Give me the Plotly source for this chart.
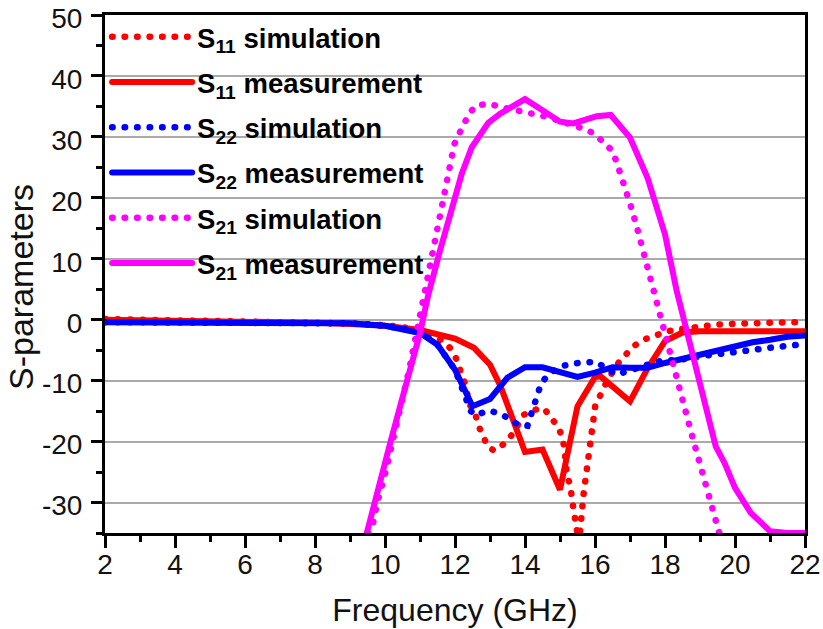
import plotly.graph_objects as go

RED = "#ff0000"
BLUE = "#0000ff"
MAGENTA = "#ff00ff"
FONT = "Liberation Sans"

# S11
s11_sim_x = [2, 6, 8, 9, 10, 10.5, 11, 11.4, 11.67, 11.9, 12.07, 12.16, 12.28, 12.42, 12.59, 12.68, 12.81, 12.94,
             13.13, 13.42, 13.64, 13.78, 13.97, 14.26, 14.54, 14.73, 14.95, 15.07, 15.13, 15.19, 15.3, 15.37, 15.43,
             15.51, 15.56, 15.61, 15.67, 15.71, 15.75, 15.79, 15.83, 15.88, 15.92, 15.96, 16.01, 16.16, 16.3, 16.62,
             16.85, 17.09, 17.38, 17.71, 18.07, 18.4, 18.76, 19.1, 19.47, 19.83, 20.18, 20.54, 20.9, 21.24, 21.6, 22]
s11_sim_y = [0.1, -0.2, -0.4, -0.6, -0.9, -1.2, -1.8, -2.7, -3.5, -4.9, -6.8, -8.5, -10.4, -13.9, -15.7, -17.5, -19.2,
             -20.9, -21.5, -20.3, -18.8, -17.2, -15.6, -14.8, -14.5, -16, -17.6, -19.4, -21.3, -25, -27.5, -30.5,
             -32.4, -35.5, -35.5, -30.7, -28.8, -27, -25.2, -23.3, -21.4, -19.5, -17.6, -15.9, -14, -12.3, -10.6, -7.4,
             -5.9, -4.4, -3.3, -2.5, -1.9, -1.6, -1.3, -1, -0.8, -0.7, -0.6, -0.5, -0.5, -0.45, -0.4, -0.4]
s11_meas_x = [2, 4, 6, 8, 9, 10, 11, 12, 12.54, 13, 13.3, 14, 14.5, 15, 15.5, 16, 16.16, 17, 17.5, 18, 18.5, 19, 20, 22]
s11_meas_y = [0, -0.1, -0.3, -0.5, -0.7, -1, -1.7, -3.1, -4.6, -7.4, -10.9, -21.7, -21.3, -27.9, -14.2, -9.4, -9.3,
              -13.4, -8, -3.5, -2.1, -1.9, -1.9, -1.9]

# S22
s22_sim_x = [2, 6, 9, 10, 11, 11.5, 12, 12.45, 12.62, 12.92, 13.24, 13.54, 13.81, 14.07, 14.18, 14.28, 14.37, 14.47,
             14.7, 14.97, 15.32, 15.67, 16.02, 16.62, 16.97, 17.3, 17.64, 18, 18.3, 18.7, 19, 19.38, 19.73, 20.09,
             20.45, 20.79, 21.14, 21.5, 21.85, 22]
s22_sim_y = [-0.4, -0.5, -0.6, -1, -2, -4.1, -8.2, -15, -15.7, -14.9, -15.3, -16.2, -17.3, -17.4, -15.6, -13.8, -12,
             -10.3, -8.9, -7.8, -7.2, -7, -6.9, -9, -8.5, -7.8, -7.1, -6.6, -6.7, -6.3, -5.9, -5.7, -5.5, -5.2, -4.9,
             -4.75, -4.5, -4.3, -4.1, -4]
s22_meas_x = [2, 6, 9, 10, 11, 11.5, 12, 12.5, 13, 13.5, 14, 14.5, 15, 15.5, 16, 16.5, 17, 17.5, 18, 18.5, 19, 19.5,
              20, 20.5, 21, 21.5, 22]
s22_meas_y = [-0.4, -0.5, -0.6, -1, -2.2, -4.1, -8.2, -14.2, -13, -9.5, -7.8, -7.8, -8.7, -9.4, -8.7, -7.8, -7.9,
              -7.9, -7.1, -6.4, -5.7, -5, -4.2, -3.7, -3.3, -2.8, -2.6]

# S21
s21_sim_x = [9.5, 9.64, 9.78, 10.02, 10.69, 11.02, 11.21, 11.36, 11.54, 11.74, 11.91, 11.98, 12.12, 12.27, 12.41, 12.62,
             12.98, 13.31, 13.67, 14.02, 14.37, 14.7, 15, 15.35, 15.7, 15.99, 16.24, 16.48, 16.61, 16.82, 17.02, 17.2,
             17.36, 17.53, 17.7, 17.88, 18.11, 18.35, 18.54, 18.8, 18.97, 19.16, 19.32, 19.51, 19.55]
s21_sim_y = [-35, -33.9, -30, -24.9, -8.2, 1, 6.4, 10.4, 15.9, 21.5, 26.9, 28.8, 30.5, 32.3, 33.9, 35.2,
             35.4, 34.9, 34.5, 34.2, 33.8, 33.2, 32.6, 32, 31.3, 30.5, 29.2, 27.8, 26, 22.5, 18.7, 15.1,
             11.5, 7.9, 4.2, 0.5, -4.6, -10.4, -14, -19.6, -23.2, -26.8, -30.5, -34.2, -35]
s21_meas_x = [9.48, 9.72, 10.16, 11, 11.24, 11.57, 12, 12.19, 12.48, 12.95, 13.29, 14, 14.52, 15, 15.38, 16.05, 16.45,
              17, 17.5, 18, 18.33, 18.54, 18.83, 19.1, 19.45, 19.7, 20, 20.45, 21, 21.5, 22]
s21_meas_y = [-35, -30, -20, -2.2, 4.2, 11.3, 20.3, 23.9, 28.3, 32.3, 33.8, 36.2, 34.3, 32.5, 32.2, 33.4, 33.6,
              29.9, 23.3, 14, 4.8, 0, -6.5, -13, -20.8, -23.5, -27.6, -31.7, -34.7, -35, -35]

y_ticks = [-30, -20, -10, 0, 10, 20, 30, 40, 50]
y_ticktext = ["-30", "-20", "-10", "0", "10", "20", "30", "40", "50"]

series = [
    ("S<sub>11</sub> simulation", s11_sim_x, s11_sim_y, RED, True),
    ("S<sub>11</sub> measurement", s11_meas_x, s11_meas_y, RED, False),
    ("S<sub>22</sub> simulation", s22_sim_x, s22_sim_y, BLUE, True),
    ("S<sub>22</sub> measurement", s22_meas_x, s22_meas_y, BLUE, False),
    ("S<sub>21</sub> simulation", s21_sim_x, s21_sim_y, MAGENTA, True),
    ("S<sub>21</sub> measurement", s21_meas_x, s21_meas_y, MAGENTA, False),
]

fig = go.Figure()
for i, (name, x, y, color, dotted) in enumerate(series):
    if dotted:
        line = dict(color=color, width=6.5, dash="0.5px,12px")
    else:
        line = dict(color=color, width=6)
    fig.add_trace(go.Scatter(x=x, y=y, name=f"<b>{name}</b>", mode="lines", line=line, legendgroup=str(i)))

fig.update_layout(
    width=823, height=629,
    autosize=False,
    margin=dict(l=105, r=18, t=15, b=96),
    paper_bgcolor="white",
    plot_bgcolor="white",
    font=dict(family=FONT, color="#111111"),
    legend=dict(
        x=0.003, y=1.005, xanchor="left", yanchor="top",
        bgcolor="rgba(0,0,0,0)",
        font=dict(size=27.5, color="black"),
        itemwidth=80,
        tracegroupgap=6.5,
    ),
    annotations=[dict(
        text="S-parameters", textangle=-90, showarrow=False,
        xref="paper", yref="paper", x=-0.12, y=0.475,
        xanchor="center", yanchor="middle",
        font=dict(size=34),
    )],
)

fig.update_xaxes(
    range=[2, 22], tick0=2, dtick=2,
    automargin=False, ticklabeloverflow="allow",
    showgrid=False, zeroline=False,
    showline=True, mirror=True, linecolor="black", linewidth=3,
    ticks="outside", ticklen=12, tickwidth=3, tickcolor="black",
    tickfont=dict(size=28), ticklabelstandoff=-8,
    minor=dict(dtick=1, ticks="outside", ticklen=6, tickwidth=3, tickcolor="black"),
    title=dict(text="Frequency (GHz)", font=dict(size=32), standoff=21),
)
fig.update_yaxes(
    range=[-35, 50], tickmode="array", tickvals=y_ticks, ticktext=y_ticktext,
    automargin=False, ticklabeloverflow="allow",
    showgrid=True, gridcolor="#aaaaaa", gridwidth=1.5, zeroline=False,
    showline=True, mirror=True, linecolor="black", linewidth=3,
    ticks="outside", ticklen=11, tickwidth=3, tickcolor="black",
    tickfont=dict(size=28), ticklabelstandoff=3, ticklabelshift=3,
    minor=dict(tickmode="linear", dtick=5, tick0=-30, ticks="outside", ticklen=6, tickwidth=3, tickcolor="black"),
)

# plotly has no line cap option, the dots of the reference are round
# the body margin would also push the 823x629 figure past the window
page_fix = """
document.body.style.margin = '0';
document.body.style.overflow = 'hidden';
document.querySelectorAll('.js-line').forEach(p => p.style.strokeLinecap = 'round');
"""
fig.write_html("out.html", post_script=page_fix, config=dict(displayModeBar=False))
